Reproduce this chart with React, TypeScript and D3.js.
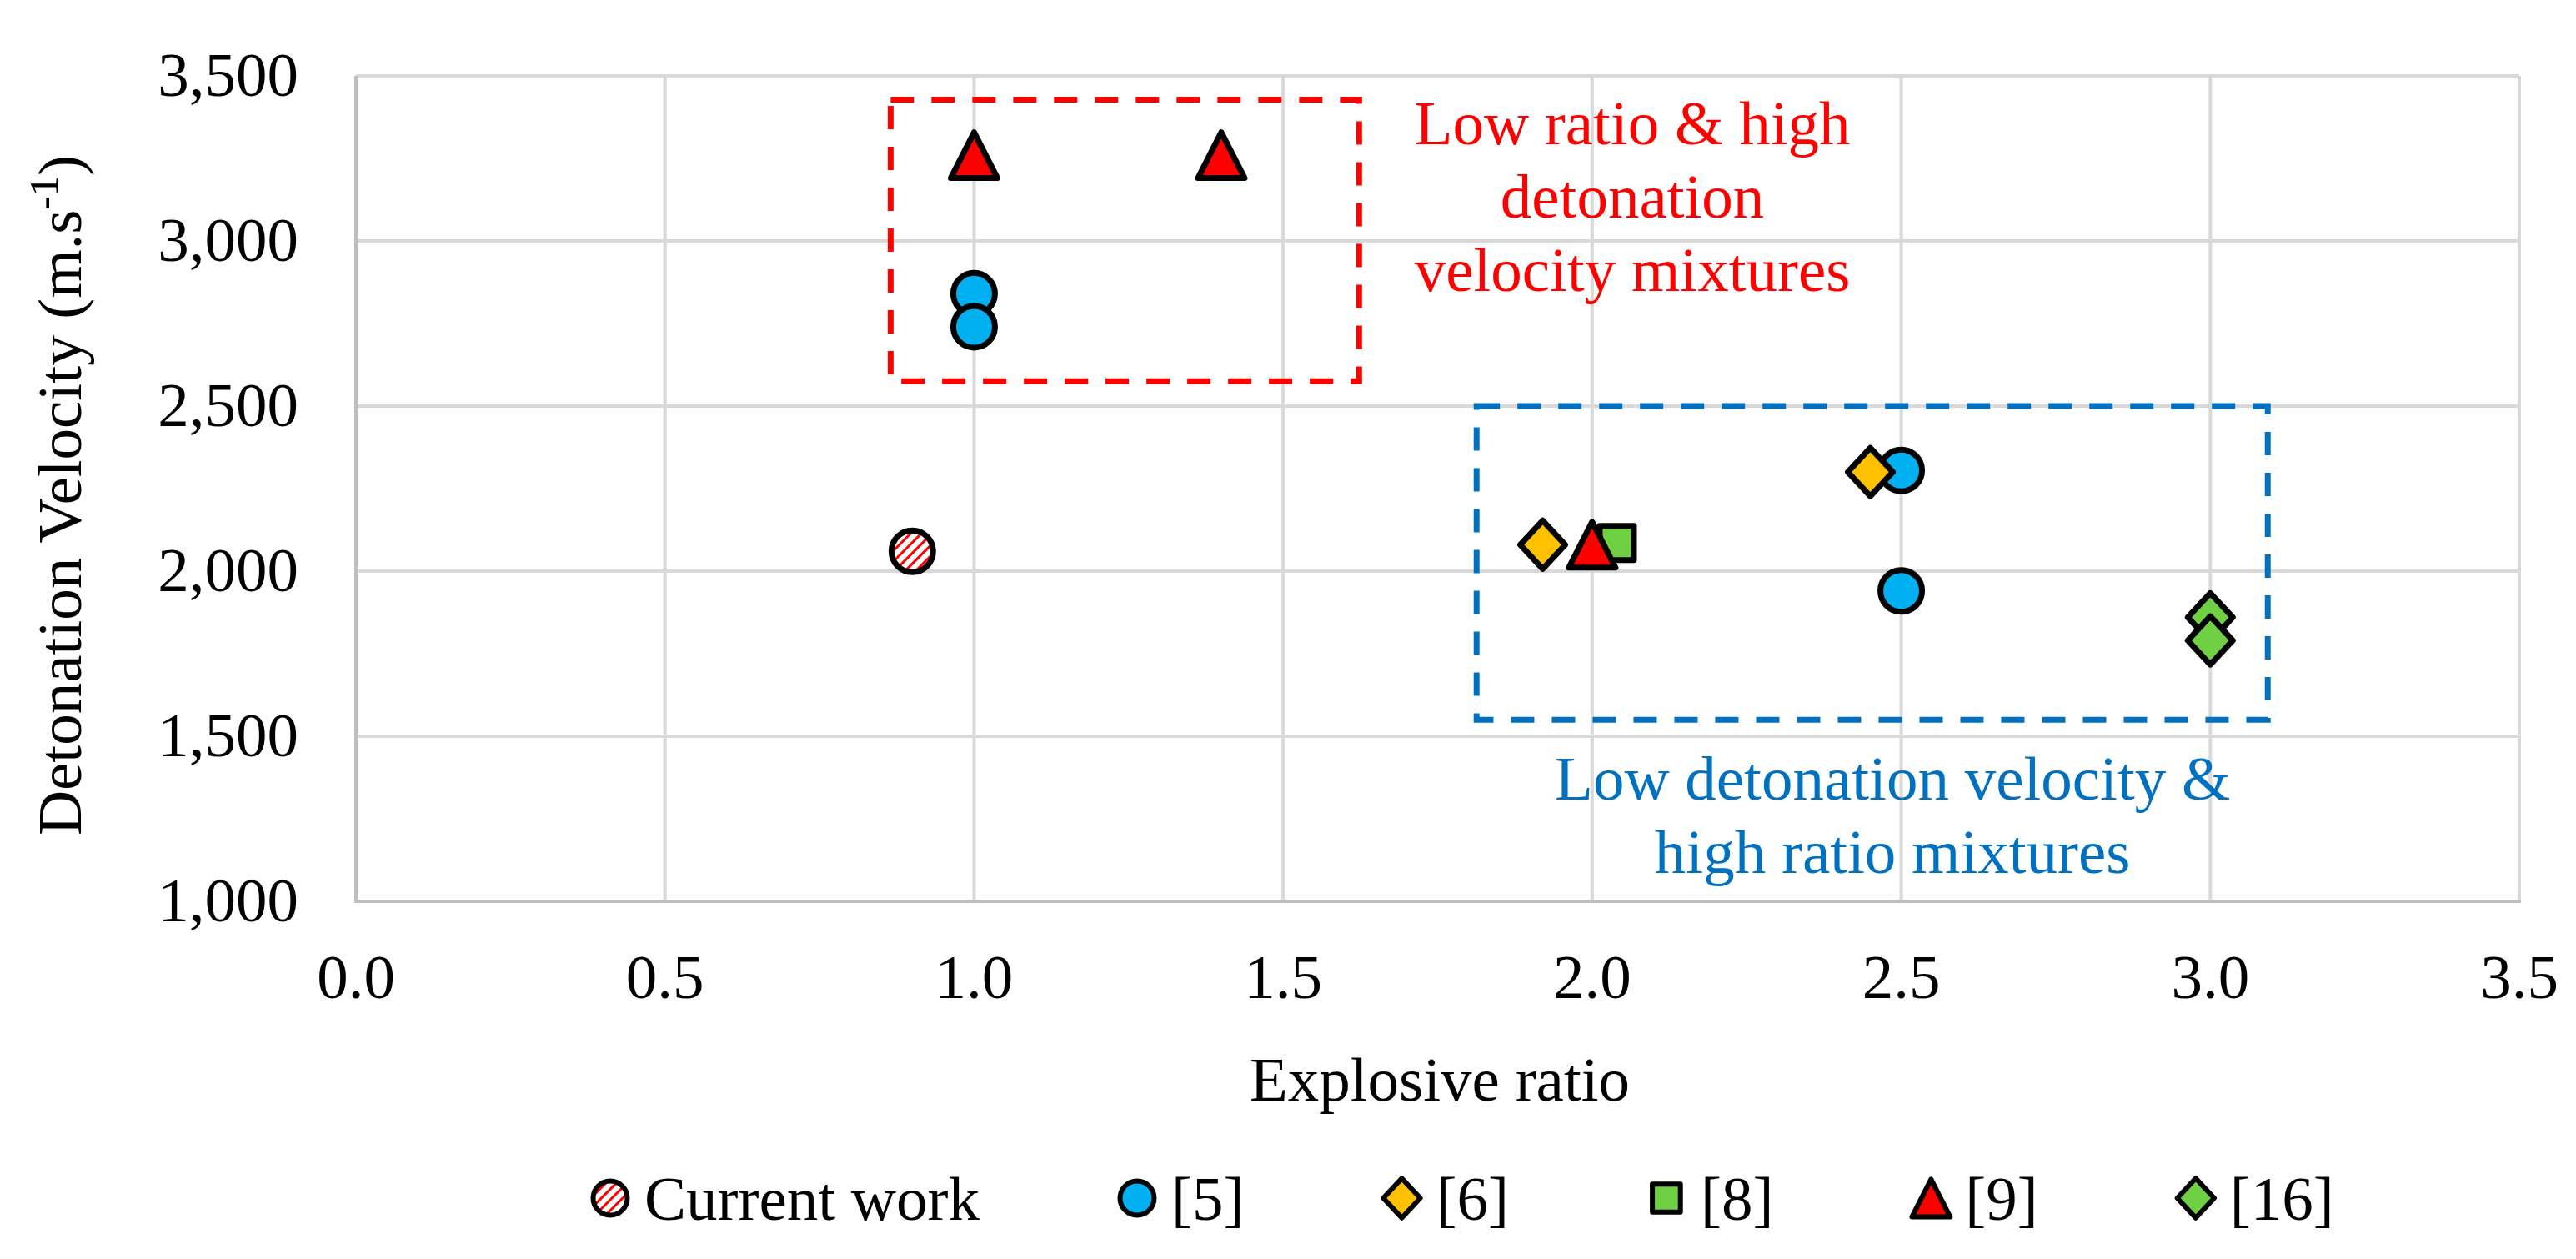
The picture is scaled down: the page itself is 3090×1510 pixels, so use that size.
import { useEffect, useRef } from 'react';
import * as d3 from 'd3';

const W = 3090;
const H = 1510;

const xTicks = [0, 0.5, 1.0, 1.5, 2.0, 2.5, 3.0, 3.5];
const yTicks = [1000, 1500, 2000, 2500, 3000, 3500];

// series
const currentX = [0.9];
const currentY = [2060];
const ref5X = [1.0, 1.0, 2.5, 2.5];
const ref5Y = [2840, 2740, 2305, 1940];
const ref6X = [1.92, 2.45];
const ref6Y = [2080, 2300];
const ref8X = [2.04];
const ref8Y = [2085];
const ref9X = [1.0, 1.4, 2.0];
const ref9Y = [3260, 3260, 2080];
const ref16X = [3.0, 3.0];
const ref16Y = [1860, 1790];

const legendLabels = ['Current work', '[5]', '[6]', '[8]', '[9]', '[16]'];

// dashed boxes in data units
const redBoxX = [0.865, 1.623];
const redBoxY = [2575, 3428];
const blueBoxX = [1.813, 3.093];
const blueBoxY = [1550, 2500];

const redNote = ['Low ratio & high', 'detonation', 'velocity mixtures'];
const blueNote = ['Low detonation velocity &', 'high ratio mixtures'];

const FONT = '"Liberation Serif", "Times New Roman", serif';
const FS = 75;

type Shape = 'hatch' | 'circle' | 'diamond' | 'square' | 'triangle';

const shapePath = (shape: Shape, k: number) => {
  if (shape === 'circle' || shape === 'hatch') {
    const r = 25 * k;
    return `M${-r},0A${r},${r} 0 1,0 ${r},0A${r},${r} 0 1,0 ${-r},0Z`;
  }
  if (shape === 'diamond') {
    const a = 27 * k, b = 29 * k;
    return `M0,${-b}L${a},0L0,${b}L${-a},0Z`;
  }
  if (shape === 'square') {
    const s = 20.5 * k;
    return `M${-s},${-s}H${s}V${s}H${-s}Z`;
  }
  const hw = 28 * k, hh = 27.5 * k;
  return `M0,${-hh}L${hw},${hh}L${-hw},${hh}Z`;
};

const App = () => {
  const svgRef = useRef<SVGSVGElement>(null);

  useEffect(() => {
    if (!svgRef.current) return;
    const svg = d3.select(svgRef.current);
    svg.selectAll('*').remove();

    const x = d3.scaleLinear().domain([0, 3.5]).range([427, 3022]);
    const y = d3.scaleLinear().domain([1000, 3500]).range([1081, 91]);

    const series = [
      { xs: currentX, ys: currentY, shape: 'hatch' as Shape, fill: 'url(#hatch)' },
      { xs: ref5X, ys: ref5Y, shape: 'circle' as Shape, fill: '#00B0F0' },
      { xs: ref6X, ys: ref6Y, shape: 'diamond' as Shape, fill: '#FFC000' },
      { xs: ref8X, ys: ref8Y, shape: 'square' as Shape, fill: '#6FD044' },
      { xs: ref9X, ys: ref9Y, shape: 'triangle' as Shape, fill: '#FF0000' },
      { xs: ref16X, ys: ref16Y, shape: 'diamond' as Shape, fill: '#6FD044' },
    ];

    const defs = svg.append('defs');
    const pat = defs.append('pattern')
      .attr('id', 'hatch')
      .attr('patternUnits', 'userSpaceOnUse')
      .attr('width', 9)
      .attr('height', 9)
      .attr('patternTransform', 'rotate(45)');
    pat.append('rect').attr('width', 9).attr('height', 9).attr('fill', '#fff');
    pat.append('rect').attr('width', 3).attr('height', 9).attr('fill', '#FF0000');

    svg.append('rect').attr('width', W).attr('height', H).attr('fill', '#fff');

    // grid
    svg.append('g').selectAll('line')
      .data(yTicks.slice(1))
      .join('line')
      .attr('x1', x(0)).attr('x2', x(3.5))
      .attr('y1', d => y(d)).attr('y2', d => y(d))
      .attr('stroke', '#D9D9D9').attr('stroke-width', 4);
    svg.append('g').selectAll('line')
      .data(xTicks.slice(1))
      .join('line')
      .attr('x1', d => x(d)).attr('x2', d => x(d))
      .attr('y1', y(1000)).attr('y2', y(3500))
      .attr('stroke', '#D9D9D9').attr('stroke-width', 4);

    // axis lines
    svg.append('line')
      .attr('x1', x(0)).attr('x2', x(0)).attr('y1', y(1000)).attr('y2', y(3500))
      .attr('stroke', '#BFBFBF').attr('stroke-width', 4);
    svg.append('line')
      .attr('x1', x(0) - 2).attr('x2', x(3.5) + 2).attr('y1', y(1000)).attr('y2', y(1000))
      .attr('stroke', '#BFBFBF').attr('stroke-width', 4);

    // tick labels
    svg.append('g').selectAll('text')
      .data(yTicks)
      .join('text')
      .attr('x', 358)
      .attr('y', d => y(d) + 24)
      .attr('text-anchor', 'end')
      .attr('font-family', FONT).attr('font-size', FS)
      .text(d => d3.format(',')(d));
    svg.append('g').selectAll('text')
      .data(xTicks)
      .join('text')
      .attr('x', d => x(d))
      .attr('y', 1197)
      .attr('text-anchor', 'middle')
      .attr('font-family', FONT).attr('font-size', FS)
      .text(d => d3.format('.1f')(d));

    // axis titles
    const yt = svg.append('text')
      .attr('transform', 'translate(97,594) rotate(-90)')
      .attr('text-anchor', 'middle')
      .attr('font-family', FONT).attr('font-size', FS);
    yt.append('tspan').text('Detonation Velocity (m.s');
    yt.append('tspan').attr('font-size', FS * 0.65).attr('dy', -28).text('-1');
    yt.append('tspan').attr('dy', 28).text(')');

    svg.append('text')
      .attr('x', 1727).attr('y', 1320)
      .attr('text-anchor', 'middle')
      .attr('font-family', FONT).attr('font-size', FS)
      .text('Explosive ratio');

    // dashed boxes
    svg.append('rect')
      .attr('x', x(redBoxX[0])).attr('y', y(redBoxY[1]))
      .attr('width', x(redBoxX[1]) - x(redBoxX[0]))
      .attr('height', y(redBoxY[0]) - y(redBoxY[1]))
      .attr('fill', 'none').attr('stroke', '#FF0000')
      .attr('stroke-width', 7).attr('stroke-dasharray', '28,21');
    svg.append('rect')
      .attr('x', x(blueBoxX[0])).attr('y', y(blueBoxY[1]))
      .attr('width', x(blueBoxX[1]) - x(blueBoxX[0]))
      .attr('height', y(blueBoxY[0]) - y(blueBoxY[1]))
      .attr('fill', 'none').attr('stroke', '#0070C0')
      .attr('stroke-width', 7).attr('stroke-dasharray', '28,21');

    // annotation text
    svg.append('g').selectAll('text')
      .data(redNote)
      .join('text')
      .attr('x', x(2.065))
      .attr('y', (_, i) => y(3293) + i * 88)
      .attr('text-anchor', 'middle')
      .attr('font-family', FONT).attr('font-size', FS)
      .attr('fill', '#FF0000')
      .text(d => d);
    svg.append('g').selectAll('text')
      .data(blueNote)
      .join('text')
      .attr('x', x(2.486))
      .attr('y', (_, i) => y(1308) + i * 88)
      .attr('text-anchor', 'middle')
      .attr('font-family', FONT).attr('font-size', FS)
      .attr('fill', '#0070C0')
      .text(d => d);

    // points
    series.forEach(s => {
      svg.append('g').selectAll('path')
        .data(s.xs.map((v, i) => [v, s.ys[i]]))
        .join('path')
        .attr('transform', d => `translate(${x(d[0])},${y(d[1])})`)
        .attr('d', shapePath(s.shape, 1))
        .attr('fill', s.fill)
        .attr('stroke', '#000')
        .attr('stroke-width', 7)
        .attr('stroke-linejoin', 'round');
    });

    // legend
    const lg = svg.append('g');
    let cursor = 708;
    series.forEach((s, i) => {
      lg.append('path')
        .attr('transform', `translate(${cursor + 24},1437)`)
        .attr('d', shapePath(s.shape, 0.82))
        .attr('fill', s.fill)
        .attr('stroke', '#000')
        .attr('stroke-width', 6)
        .attr('stroke-linejoin', 'round');
      const t = lg.append('text')
        .attr('x', cursor + 65)
        .attr('y', 1463)
        .attr('font-family', FONT).attr('font-size', FS)
        .text(legendLabels[i]);
      const len = (t.node() as SVGTextElement).getComputedTextLength();
      cursor = cursor + 65 + len + 165;
    });
  }, []);

  return (
    <svg
      ref={svgRef}
      width={W}
      height={H}
      style={{ position: 'absolute', left: 0, top: 0 }}
    />
  );
};

export default App;
